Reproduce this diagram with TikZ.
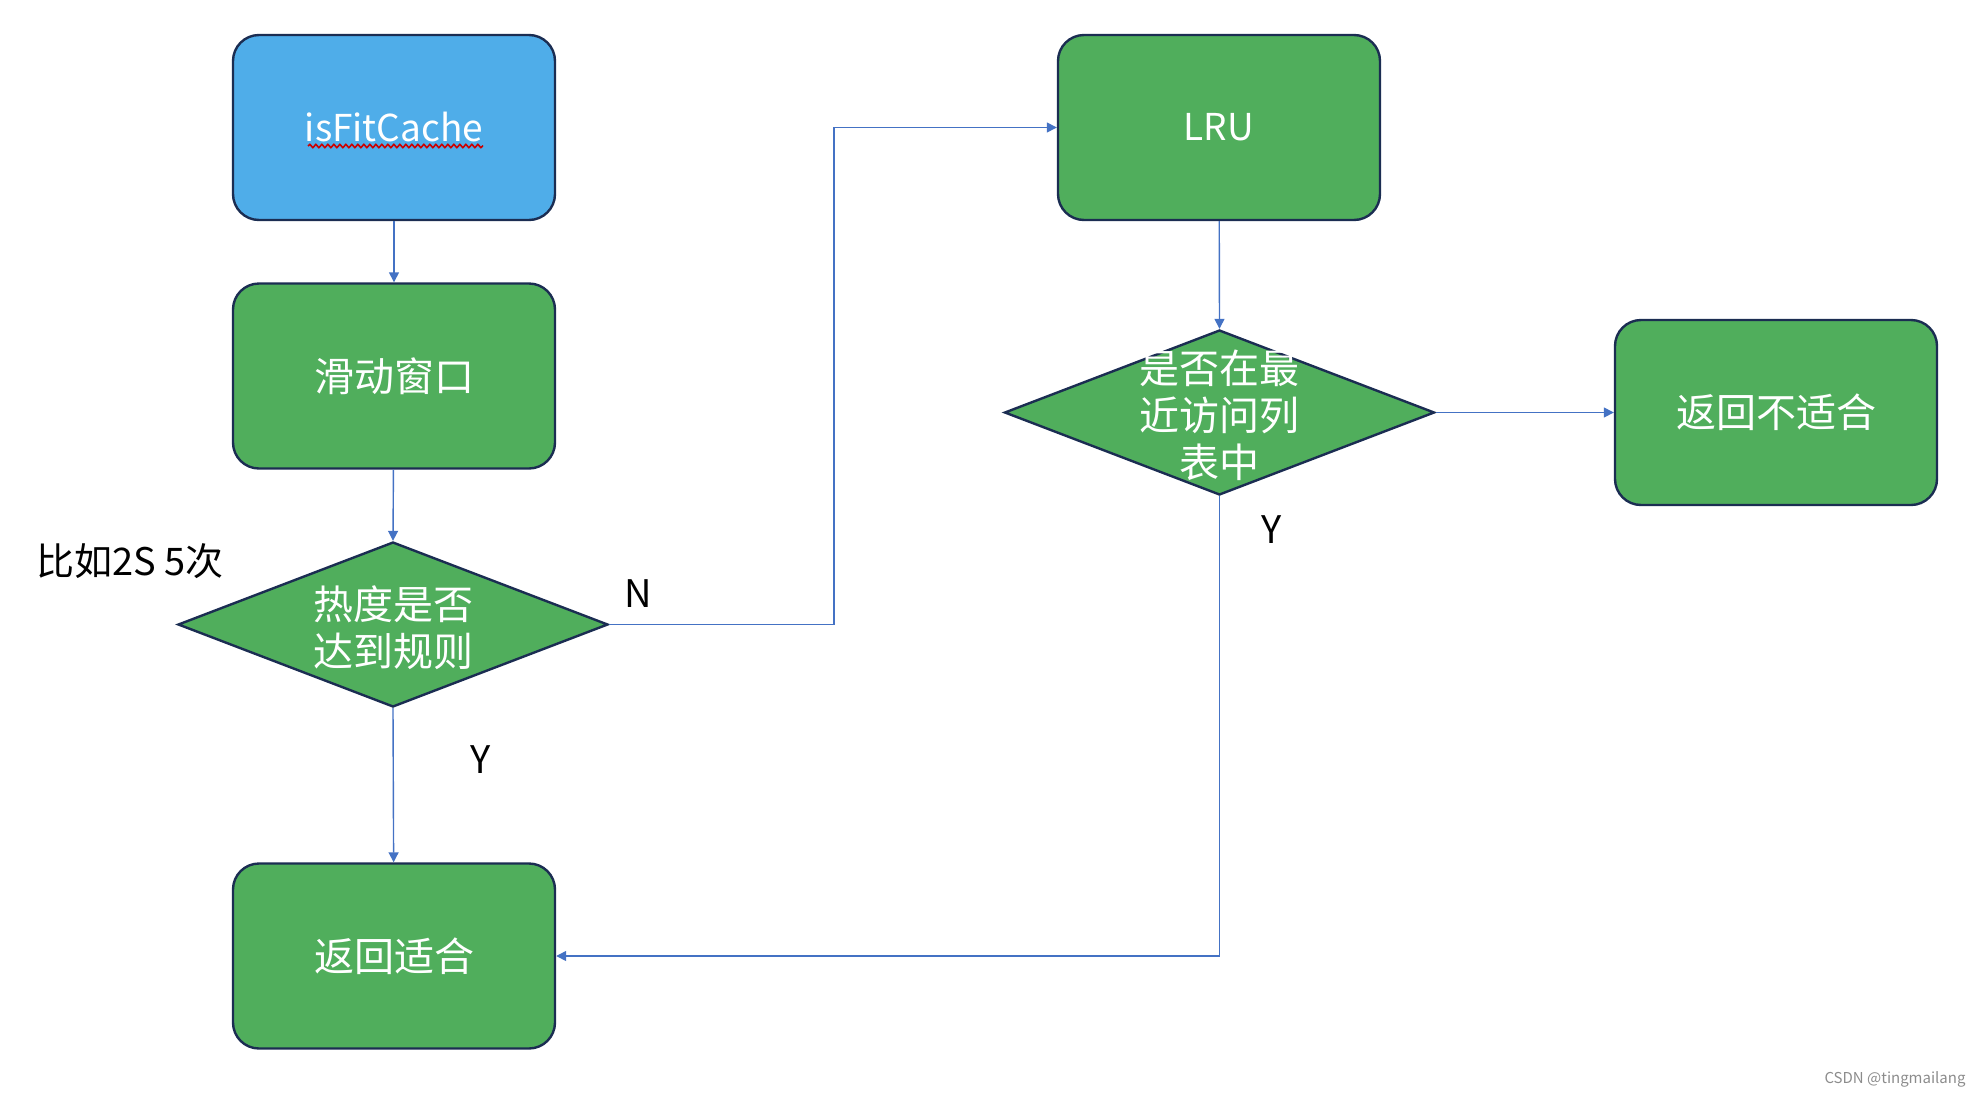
\documentclass[tikz,border=0pt]{standalone}
\usepackage{fontspec}
\setmainfont{Noto Sans CJK SC}
\usetikzlibrary{shapes.geometric,arrows.meta,decorations.pathmorphing}

\definecolor{boxblue}{HTML}{4FADE9}
\definecolor{boxgreen}{HTML}{50AE5C}
\definecolor{boxline}{HTML}{1B2D52}
\definecolor{flowblue}{HTML}{4472C4}

\tikzset{
  stepbox/.style={draw=boxline, line width=2.4pt, rounded corners=26pt, fill=boxgreen,
    minimum width=322pt, minimum height=185pt, text=white, font=\fontsize{40}{44}\selectfont},
  latinbox/.style={stepbox, font=\fontsize{37}{40}\selectfont},
  decision/.style={diamond, draw=boxline, line width=2.4pt, fill=boxgreen, inner sep=0pt,
    minimum width=430pt, minimum height=165pt},
  dtext/.style={text=white, align=center, font=\fontsize{40}{47}\selectfont},
  flow/.style={draw=flowblue, line width=1.4pt, -{Triangle[width=10pt,length=10pt]}},
  tag/.style={font=\fontsize{38}{40}\selectfont}
}

\begin{document}
\begin{tikzpicture}[x=1pt, y=-1pt]
\useasboundingbox (0,0) rectangle (1984,1098);
\node[latinbox, fill=boxblue] (isfit) at (394,127.5) {isFitCache};
\draw[red!80!black, line width=1.6pt, decorate, decoration={snake, amplitude=1.6pt, segment length=6pt}] (308,146) -- (483,146);
\node[stepbox] (window) at (394,376) {滑动窗口};
\node[decision] (heat) at (393,624.5) {};
\node[dtext] (heattext) at (393,628) {热度是否\\达到规则};
\node[stepbox] (fit) at (394,956) {返回适合};
\node[latinbox] (lru) at (1219,127.5) {LRU};
\node[decision] (recent) at (1219.5,412.5) {};
\node[dtext] (recenttext) at (1219.5,415) {是否在最\\近访问列\\表中};
\node[stepbox] (notfit) at (1776,412.5) {返回不适合};
\coordinate (bendN) at (834,0);
% connectors
\draw[flow] (isfit) -- (window);
\draw[flow] (window) -- (heat.north);
\draw[flow] (heat.south) -- (fit);
\draw[flow] (heat.east) -- (heat.east -| bendN) |- (lru.west);
\draw[flow] (lru) -- (recent.north);
\draw[flow] (recent.east) -- (notfit.west);
\draw[flow] (recent.south) |- (fit.east);
% labels
\node[tag] (labN) at (638,594) {N};
\node[tag] (labY1) at (481,760) {Y};
\node[tag] (labY2) at (1272,530) {Y};
\node[font=\fontsize{38}{40}\selectfont] (note) at (130,561) {比如2S 5次};
\node[text=black!45, font=\fontsize{15}{16}\selectfont] (mark) at (1895,1079) {CSDN @tingmailang};
\end{tikzpicture}
\end{document}
